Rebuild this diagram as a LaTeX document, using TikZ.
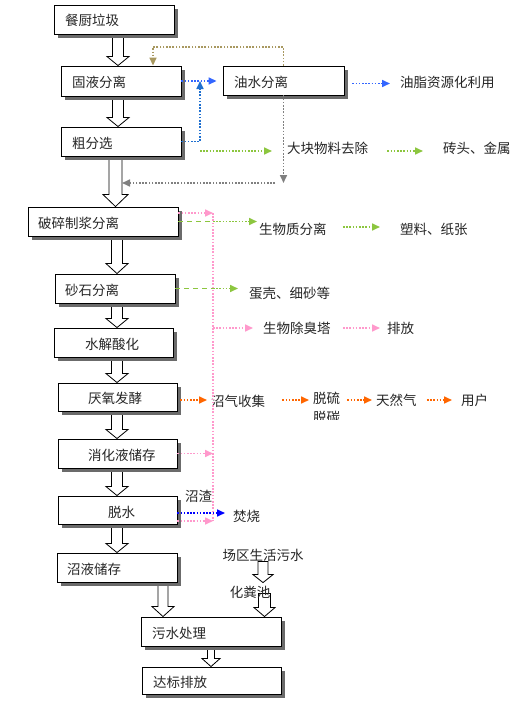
\documentclass[tikz,border=0pt]{standalone}
\usepackage{fontspec}
\newfontfamily\cjk{Noto Sans CJK SC}
\usetikzlibrary{arrows.meta,calc}
\pgfdeclarelayer{bg}
\pgfdeclarelayer{sh}
\pgfsetlayers{bg,sh,main}
\definecolor{cblue}{HTML}{3366FF}
\definecolor{cteal}{HTML}{1F70D0}
\definecolor{colive}{HTML}{A89860}
\definecolor{cgray}{HTML}{808080}
\definecolor{cgreen}{HTML}{8CC63F}
\definecolor{cpink}{HTML}{FF99CC}
\definecolor{corange}{HTML}{FF6600}
\definecolor{cpblue}{HTML}{0000FF}
\tikzset{
  box/.style={draw=black, fill=white, line width=0.9pt, inner sep=0pt},
  shadowfill/.style={fill=black!58},
  lbl/.style={inner sep=0pt, anchor=west, text=black!85, font=\cjk\fontsize{13.5pt}{16pt}\selectfont},
  lblc/.style={lbl, anchor=center},
  dot/.style={line width=1.6pt, dash pattern=on 1.6pt off 1.6pt},
  dsh/.style={line width=1.4pt, dash pattern=on 5pt off 4pt},
  tip/.style={-{Triangle[length=8pt,width=7pt]}},
  blk/.style={draw=black, fill=white, line width=0.8pt}
}
\newcommand\blkarr[6]{%
  \path[blk] let \p1=(#2), \p2=(#3) in
    (#1pt-#4pt,\y1) -- (#1pt-#4pt,\y2+#6pt) -- (#1pt-#5pt,\y2+#6pt) -- (#1pt,\y2)
    -- (#1pt+#5pt,\y2+#6pt) -- (#1pt+#4pt,\y2+#6pt) -- (#1pt+#4pt,\y1) -- cycle;}
\newcommand\shd[1]{%
  \fill[shadowfill] ([shift={(4pt,-4pt)}]#1.south west) rectangle ([shift={(4pt,-4pt)}]#1.north east);}
\begin{document}
\begin{tikzpicture}[x=1pt,y=-1pt]
\useasboundingbox (0,0) rectangle (526,701);
\begin{pgfonlayer}{bg}
\fill[white] (0,0) rectangle (526,701);
\end{pgfonlayer}

% boxes
\node[box, minimum width=120pt, minimum height=29pt] (b1) at (114,19.5) {};
\node[box, minimum width=120pt, minimum height=30pt] (b2) at (121,81) {};
\node[box, minimum width=120pt, minimum height=29pt] (b3) at (121,141.5) {};
\node[box, minimum width=150pt, minimum height=29pt] (b4) at (103,221.5) {};
\node[box, minimum width=120pt, minimum height=29pt] (b5) at (115,288.5) {};
\node[box, minimum width=119pt, minimum height=29pt] (b6) at (113.5,342.5) {};
\node[box, minimum width=119pt, minimum height=28pt] (b7) at (117.5,397) {};
\node[box, minimum width=119pt, minimum height=29pt] (b8) at (117.5,453.5) {};
\node[box, minimum width=119pt, minimum height=28pt] (b9) at (117.5,510) {};
\node[box, minimum width=120pt, minimum height=29pt] (b10) at (117,567.5) {};
\node[box, minimum width=140pt, minimum height=29pt] (b11) at (211,631.5) {};
\node[box, minimum width=139pt, minimum height=27pt] (b12) at (211.5,680.5) {};
\node[box, minimum width=121pt, minimum height=29pt] (oil) at (283.5,80.5) {};

\begin{pgfonlayer}{sh}
\shd{b1}\shd{b2}\shd{b3}\shd{b4}\shd{b5}\shd{b6}\shd{b7}
\shd{b8}\shd{b9}\shd{b10}\shd{b11}\shd{b12}\shd{oil}
\end{pgfonlayer}

% box texts
\node[lbl] (t1) at (65,20) {餐厨垃圾};
\node[lbl] (t2) at (72,82) {固液分离};
\node[lbl] (t3) at (72,143) {粗分选};
\node[lbl] (t4) at (38,223) {破碎制浆分离};
\node[lbl] (t5) at (65,290) {砂石分离};
\node[lbl] (t6) at (85,344) {水解酸化};
\node[lbl] (t7) at (88,398) {厌氧发酵};
\node[lbl] (t8) at (88,455) {消化液储存};
\node[lbl] (t9) at (108,512) {脱水};
\node[lbl] (t10) at (67,569) {沼液储存};
\node[lbl] (t11) at (152,633) {污水处理};
\node[lbl] (t12) at (153,682) {达标排放};
\node[lbl] (toil) at (234,82) {油水分离};

% outside labels
\node[lbl] (yz) at (400,82) {油脂资源化利用};
\node[lbl] (dk) at (287,148) {大块物料去除};
\node[lbl] (zt) at (443,148) {砖头、金属};
\node[lbl] (swz) at (259,229) {生物质分离};
\node[lbl] (slz) at (400,229) {塑料、纸张};
\node[lbl] (dq) at (249,293) {蛋壳、细砂等};
\node[lbl] (scc) at (263,328) {生物除臭塔};
\node[lbl] (pf) at (387,328) {排放};
\node[lbl] (zq) at (211,401) {沼气收集};
\node[lbl] (tl) at (313,398) {脱硫};
\begin{scope}
  \clip (300,405) rectangle (360,419.5);
  \node[lbl] (tt) at (313,417) {脱碳};
\end{scope}
\node[lbl] (trq) at (376,400) {天然气};
\node[lbl] (yh) at (461,400) {用户};
\node[lbl] (zz) at (185,496) {沼渣};
\node[lbl] (fs) at (233,516) {焚烧};
\node[lblc] (sh) at (263,555) {场区生活污水};
\node[lblc] (hf) at (250,592) {化粪池};

% block arrows (behind boxes)
\begin{pgfonlayer}{bg}
\blkarr{118}{b1.south}{b2.north}{5.5}{11}{9}
\blkarr{118}{b2.south}{b3.north}{5.5}{11}{9}
\blkarr{115.5}{b3.south}{b4.north}{6.5}{12.5}{12}
\blkarr{117}{b4.south}{b5.north}{5.5}{11}{10}
\blkarr{117}{b5.south}{b6.north}{5.5}{11}{9}
\blkarr{117}{b6.south}{b7.north}{5.5}{11}{9}
\blkarr{117}{b7.south}{b8.north}{5.5}{11}{9}
\blkarr{117}{b8.south}{b9.north}{5.5}{11}{9}
\blkarr{117}{b9.south}{b10.north}{5.5}{11}{9}
\blkarr{163}{b10.south}{b11.north}{5}{11}{10}
\blkarr{211}{b11.south}{b12.north}{3.5}{9}{8}
\blkarr{264.5}{[yshift=5pt]hf.south}{b11.north}{6}{10.5}{9}
\end{pgfonlayer}
\blkarr{263}{sh.south}{[yshift=3pt]hf.north}{5}{10}{8}

% coordinates
\coordinate (p1) at (213,213);
\coordinate (p2) at (213,521);
\coordinate (p3) at (213,328);
\coordinate (j1) at (200,141.5);
\coordinate (o1) at (153,47);
\coordinate (gv) at (283.5,183);
\coordinate (g1) at (275,183);
\coordinate (g2) at (122,183);
\coordinate (gs) at (200,151);
\coordinate (d1) at ([yshift=-3pt]b9.east);
\coordinate (d2) at ([yshift=-11pt]b9.east);
\coordinate (e1) at ([yshift=-3pt]oil.east);

% top connectors
\draw[dot,cblue,tip,shorten >=6pt] (b2.east) -- (b2.east -| oil.west);
\draw[dot,cteal,tip] (b3.east) -- (j1) -- (j1 |- b2.east);
\draw[dot,colive,tip] (oil.north) |- (o1) -- (o1 |- b2.north);
\draw[dot,cgray,tip] (oil.south) -- (gv);
\draw[dot,cgray,tip] (g1) -- (g2);
\draw[dot,cgreen,tip,shorten >=15pt] (gs) -- (gs -| dk.west);
\draw[dot,cgreen,tip,shorten <=19pt,shorten >=20pt] (dk.east |- gs) -- (zt.west |- gs);
\draw[dot,cblue,tip,shorten <=8pt,shorten >=10pt] (e1) -- (e1 -| yz.west);

% pink collector
\draw[dot,cpink] (p1) -- (p2);
\draw[dot,cpink,tip] (b4.east |- p1) -- (p1);
\draw[dot,cpink,tip] (b8.east) -- (p1 |- b8.east);
\draw[dot,cpink,tip] (d2) -- (d2 -| p1);
\draw[dot,cpink,tip,shorten >=10pt] (p3) -- (p3 -| scc.west);
\draw[dot,cpink,tip,shorten <=12pt,shorten >=7pt] (scc.east) -- (scc.east -| pf.west);

% green
\draw[dsh,cgreen] (b4.east) -- (p1 |- b4.east);
\draw[dot,cgreen,tip,shorten >=2pt] (p1 |- b4.east) -- (swz.west |- b4.east);
\draw[dot,cgreen,tip,shorten <=16pt,shorten >=20pt] ([yshift=2pt]swz.east) -- ([yshift=2pt]swz.east -| slz.west);
\draw[dsh,cgreen] (b5.east) -- (p1 |- b5.east);
\draw[dot,cgreen,tip,shorten >=11pt] (p1 |- b5.east) -- (dq.west |- b5.east);

% orange
\draw[dot,corange,tip,shorten <=3pt,shorten >=4pt] (b7.east |- trq.west) -- (zq.west |- trq.west);
\draw[dot,corange,tip,shorten <=17pt,shorten >=4pt] (zq.east |- trq.west) -- (tl.west |- trq.west);
\draw[dot,corange,tip,shorten <=7pt,shorten >=4pt] (tl.east |- trq.west) -- (trq.west);
\draw[dot,corange,tip,shorten <=10pt,shorten >=9pt] (trq.east) -- (yh.west |- trq.east);

% dewatering
\draw[dot,cpblue,tip,shorten >=8pt] (d1) -- (d1 -| fs.west);
\end{tikzpicture}
\end{document}
